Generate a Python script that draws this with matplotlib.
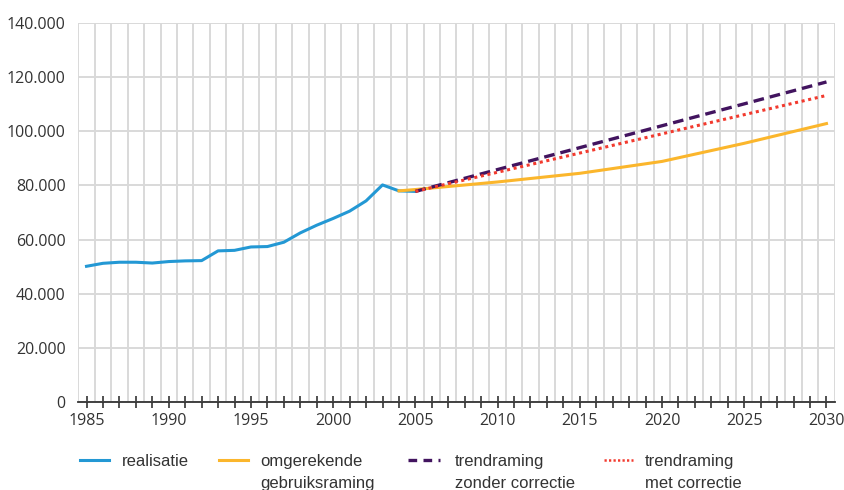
import matplotlib
matplotlib.use("Agg")
import matplotlib.pyplot as plt
from matplotlib.lines import Line2D
from matplotlib.ticker import FuncFormatter, MultipleLocator

# ---- data ----
years_real = list(range(1985, 2006))
realisatie = [50100, 51200, 51600, 51600, 51300, 51850, 52100, 52200, 55800, 56000,
              57250, 57400, 59000, 62450, 65300, 67800, 70500, 74300, 80200, 78000, 77800]

years_gebr = [2004, 2005, 2010, 2015, 2020, 2025, 2030]
gebruiksraming = [78000, 78500, 81300, 84500, 88900, 95600, 102900]

years_trend = [2005, 2010, 2015, 2020, 2025, 2030]
trend_zonder = [77800, 85900, 94000, 102100, 110200, 118300]
trend_met = [77800, 84900, 92000, 99100, 106200, 113300]

labels = ["realisatie", "omgerekende\ngebruiksraming", "trendraming\nzonder correctie",
          "trendraming\nmet correctie"]
xtick_years = list(range(1985, 2031, 5))

# ---- style ----
BLUE = "#2398d4"
ORANGE = "#fbb62c"
PURPLE = "#42145f"
RED = "#f23a2e"
GRID = "#d9d9d9"
TEXT = "#333333"

plt.rcParams['font.family'] = ['Open Sans', 'DejaVu Sans']

W, H = 845, 490
fig = plt.figure(figsize=(W / 100, H / 100), dpi=100)
ax = fig.add_axes([78.3 / W, 88.3 / H, (834.7 - 78.3) / W, (401.7 - 23.3) / H])

ax.plot(years_real, realisatie, color=BLUE, lw=2.2, zorder=3)
ax.plot(years_gebr, gebruiksraming, color=ORANGE, lw=2.2, zorder=4)
ax.plot(years_trend, trend_zonder, color=PURPLE, lw=2.4, dashes=(3.2, 1.8), zorder=5)
ax.plot(years_trend, trend_met, color=RED, lw=2.2, dashes=(1.0, 1.2), zorder=5)

ax.set_xlim(1984.5, 2030.5)
ax.set_ylim(0, 140000)

ax.yaxis.set_major_locator(MultipleLocator(20000))
ax.yaxis.set_major_formatter(FuncFormatter(lambda v, p: f"{int(v):,}".replace(",", ".")))
ax.set_xticks(xtick_years)

# gridlines: horizontal at major y, vertical between years
ax.grid(axis='y', color=GRID, lw=1.4, zorder=0)
for x in [y + 0.5 for y in range(1984, 2031)]:
    ax.axvline(x, color=GRID, lw=1.4, zorder=0)

ax.tick_params(axis='y', length=0, pad=9, labelsize=11.5, labelcolor=TEXT)
ax.tick_params(axis='x', which='major', length=0, pad=8, labelsize=11.5, labelcolor=TEXT)
sec = ax.secondary_xaxis('bottom')
sec.set_xticks(list(range(1985, 2031)))
sec.tick_params(axis='x', direction='inout', length=8, width=1.2, color=TEXT, labelbottom=False)
sec.spines['bottom'].set_visible(False)

for s in ['top', 'left', 'right']:
    ax.spines[s].set_visible(False)
ax.spines['bottom'].set_color(TEXT)
ax.spines['bottom'].set_linewidth(1.3)
ax.spines['bottom'].set_zorder(6)

# legend drawn manually (handle aligned to the first text line)
styles = [dict(color=BLUE, lw=2.2),
          dict(color=ORANGE, lw=2.2),
          dict(color=PURPLE, lw=2.4, dashes=(2.6, 1.9)),
          dict(color=RED, lw=1.8, dashes=(0.9, 0.9))]
handle_x = [(80, 109), (219, 248), (408, 440), (604, 633)]
text_x = [121.5, 260.5, 455, 645]
for st, (x0, x1), tx, lab in zip(styles, handle_x, text_x, labels):
    fig.add_artist(Line2D([x0 / W, x1 / W], [1 - 460 / H, 1 - 460 / H],
                          transform=fig.transFigure, **st))
    for i, line in enumerate(lab.split("\n")):
        fig.text(tx / W, 1 - (465.7 + 22 * i) / H, line, ha='left', va='baseline',
                 fontsize=12, color=TEXT, family=['Liberation Sans', 'DejaVu Sans'])

fig.savefig("out.png", dpi=100)
